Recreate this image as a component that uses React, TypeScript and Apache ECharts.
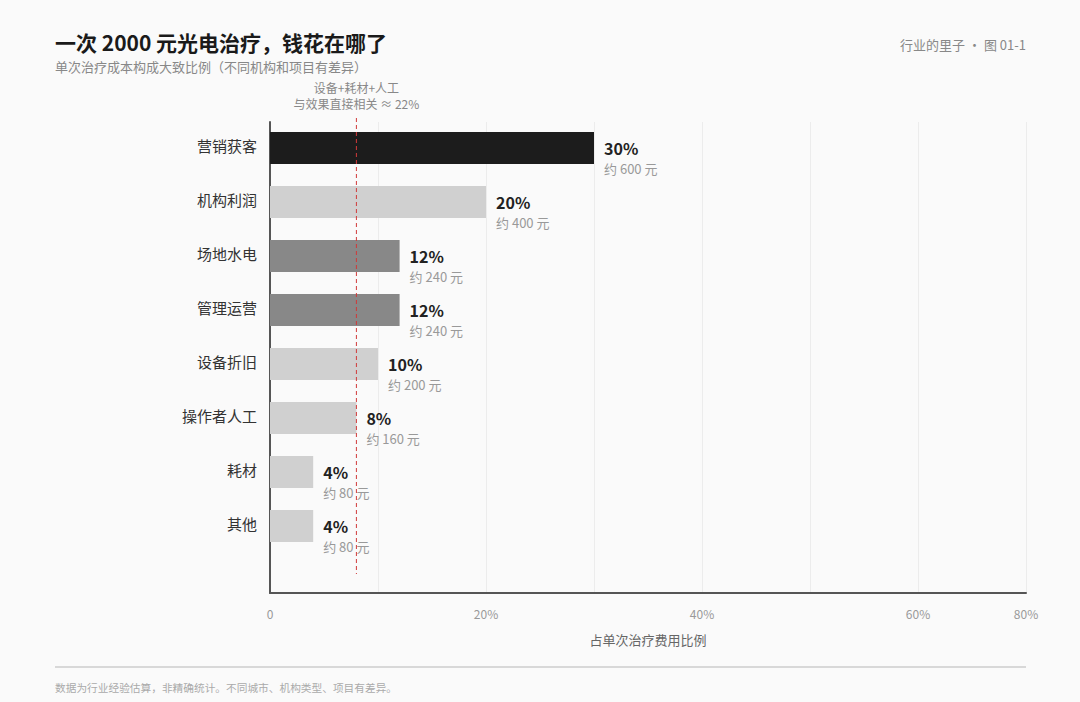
import { useEffect, useRef } from "react";
import * as echarts from "echarts";

// 成本构成（从上到下）
const categories = [
  "营销获客",
  "机构利润",
  "场地水电",
  "管理运营",
  "设备折旧",
  "操作者人工",
  "耗材",
  "其他",
];
const shares = [30, 20, 12, 12, 10, 8, 4, 4];
const yuan = [600, 400, 240, 240, 200, 160, 80, 80];
// 每一档 10% 的刻度文字
const xTickLabels = ["0", "", "20%", "", "40%", "", "60%", "80%"];
const refShare = 8;

const palette: Record<string, string> = {
  营销获客: "#1c1c1c",
  场地水电: "#888888",
  管理运营: "#888888",
};

const FONT = "'Noto Sans CJK SC', 'Noto Sans', sans-serif";

export default function App() {
  const containerRef = useRef<HTMLDivElement>(null);

  useEffect(() => {
    if (!containerRef.current) return;
    const chart = echarts.init(containerRef.current, null, { renderer: "svg" });

    chart.setOption({
      animation: false,
      backgroundColor: "#fafafa",
      textStyle: { fontFamily: FONT },
      grid: [
        { left: 270, right: 54, top: 121, height: 432 },
        { left: 270, right: 54, top: 122, bottom: 109 },
      ],
      xAxis: [
        { type: "value", gridIndex: 0, min: 0, max: 70, show: false },
        {
          type: "value",
          gridIndex: 1,
          min: 0,
          max: 70,
          interval: 10,
          axisLine: { show: true, lineStyle: { color: "#555", width: 2 } },
          axisTick: { show: false },
          splitLine: { show: true, lineStyle: { color: "#ececec", width: 1 } },
          axisLabel: {
            color: "#999",
            fontSize: 12,
            margin: 14,
            fontFamily: FONT,
            formatter: (v: number) => xTickLabels[Math.round(v / 10)] ?? "",
          },
          name: "占单次治疗费用比例",
          nameLocation: "middle",
          nameGap: 40,
          nameTextStyle: { color: "#666", fontSize: 13, fontFamily: FONT },
        },
      ],
      yAxis: [
        {
          type: "category",
          gridIndex: 0,
          inverse: true,
          data: categories,
          axisLine: { show: false },
          axisTick: { show: false },
          splitLine: { show: false },
          axisLabel: {
            margin: 13,
            formatter: (v: string) => `{c|${v}}`,
            rich: {
              c: {
                color: "#333",
                fontSize: 15,
                fontFamily: FONT,
                padding: [0, 0, 6, 0],
              },
            },
          },
        },
        {
          type: "value",
          gridIndex: 1,
          min: 0,
          max: 1,
          axisLine: { show: true, lineStyle: { color: "#555", width: 2 } },
          axisTick: { show: false },
          axisLabel: { show: false },
          splitLine: { show: false },
        },
      ],
      series: [
        {
          type: "bar",
          xAxisIndex: 0,
          yAxisIndex: 0,
          barWidth: 32,
          data: shares.map((v, i) => ({
            value: v,
            itemStyle: { color: palette[categories[i]] ?? "#d0d0d0" },
          })),
          label: {
            show: true,
            position: "right",
            distance: 10,
            offset: [0, 10],
            formatter: (p: { dataIndex: number }) =>
              `{v|${shares[p.dataIndex]}%}\n{s|约 ${yuan[p.dataIndex]} 元}`,
            rich: {
              v: {
                fontSize: 16,
                fontWeight: "bold",
                color: "#222",
                lineHeight: 20,
                fontFamily: FONT,
              },
              s: { fontSize: 13, color: "#999", lineHeight: 20, fontFamily: FONT },
            },
          },
          z: 2,
        },
      ],
    });

    // 参考虚线位置由坐标轴换算
    const refX = chart.convertToPixel({ xAxisIndex: 0 }, refShare) as number;
    const firstY = chart.convertToPixel({ yAxisIndex: 0 }, categories[0]) as number;
    const lastY = chart.convertToPixel(
      { yAxisIndex: 0 },
      categories[categories.length - 1]
    ) as number;

    chart.setOption({
      graphic: [
        {
          type: "text",
          x: 55,
          y: 42,
          style: {
            text: "一次 2000 元光电治疗，钱花在哪了",
            fill: "#1a1a1a",
            fontSize: 21,
            fontWeight: "bold",
            fontFamily: FONT,
            verticalAlign: "middle",
          },
        },
        {
          type: "text",
          x: 55,
          y: 66,
          style: {
            text: "单次治疗成本构成大致比例（不同机构和项目有差异）",
            fill: "#888",
            fontSize: 13,
            fontFamily: FONT,
            verticalAlign: "middle",
          },
        },
        {
          type: "text",
          x: 1026,
          y: 44,
          style: {
            text: "行业的里子 · 图 01-1",
            fill: "#888",
            fontSize: 13,
            fontFamily: FONT,
            align: "right",
            verticalAlign: "middle",
          },
        },
        {
          type: "text",
          x: refX,
          y: 95,
          style: {
            text: "设备+耗材+人工\n与效果直接相关 ≈ 22%",
            fill: "#888",
            fontSize: 12,
            lineHeight: 16,
            fontFamily: FONT,
            align: "center",
            verticalAlign: "middle",
          },
        },
        {
          type: "line",
          z: 10,
          shape: { x1: refX, y1: firstY - 30, x2: refX, y2: lastY + 48 },
          style: { stroke: "#d03a3a", lineWidth: 1, lineDash: [4, 3] },
        },
        {
          type: "line",
          shape: { x1: 55, y1: 667, x2: 1026, y2: 667 },
          style: { stroke: "#cccccc", lineWidth: 1.5 },
        },
        {
          type: "text",
          x: 55,
          y: 687,
          style: {
            text: "数据为行业经验估算，非精确统计。不同城市、机构类型、项目有差异。",
            fill: "#aaa",
            fontSize: 10.7,
            fontFamily: FONT,
            verticalAlign: "middle",
          },
        },
      ],
    });

    return () => {
      chart.dispose();
    };
  }, []);

  return (
    <div
      ref={containerRef}
      style={{ position: "fixed", left: 0, top: 0, width: 1080, height: 702 }}
    ></div>
  );
}
